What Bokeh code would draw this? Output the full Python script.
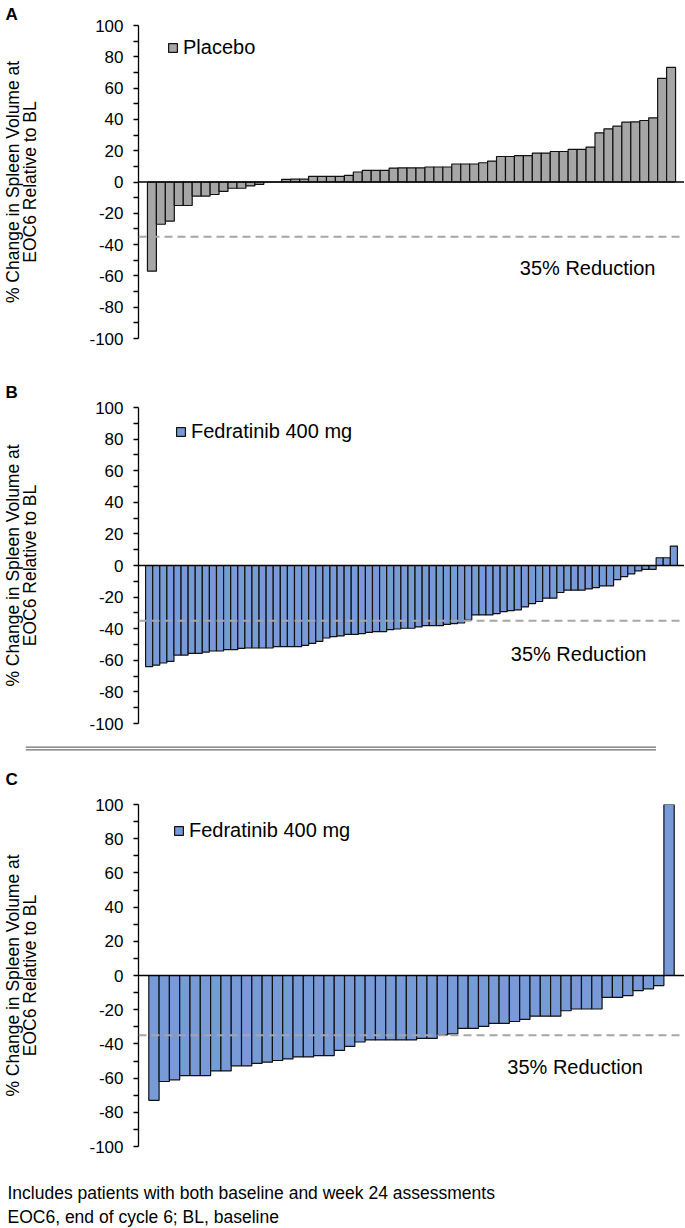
from bokeh.plotting import figure
from bokeh.models import Range1d, Span, Label, Legend, LegendItem, FixedTicker, ColumnDataSource, Title
from bokeh.layouts import column, row
from bokeh.embed import file_html
from bokeh.resources import INLINE

FONT = "Liberation Sans"

# ---- data ----
placebo = [-57, -27, -25, -15, -15, -9, -9, -8, -6, -4, -4, -2.5, -1.5, 0, 0,
           1.7, 1.8, 1.8, 3.6, 3.6, 3.6, 3.6, 4.2, 6.4, 7.4, 7.4, 7.4, 8.9, 9.0,
           9.0, 9.0, 9.6, 9.6, 9.6, 11.5, 11.5, 11.5, 12.3, 13.4, 16.3, 16.3,
           16.8, 16.8, 18.5, 18.5, 19.5, 19.5, 20.8, 20.8, 22.3, 31.4, 34.0,
           35.7, 38.2, 38.4, 39.3, 41.0, 66.2, 73.2]

fedratinib_b = [-64, -63, -61.7, -60.7, -56.7, -56.7, -55.6, -55.6, -54.8, -54.1,
                -54.1, -53.3, -53.3, -52.4, -52.2, -52.2, -52.2, -52.2, -51.4, -51.4,
                -51.4, -51.4, -50.5, -49.3, -48, -45.9, -45, -44.6, -43.6, -43.6,
                -43.1, -42.3, -41.9, -41.9, -40.6, -40.2, -39.7, -39.7, -38.9, -38.1,
                -38.1, -38.1, -37.2, -36.8, -36.4, -34.5, -31.3, -31.3, -31.3, -30.4,
                -29.2, -28.5, -28.1, -26.2, -24.1, -22.8, -20.7, -20.7, -17.1, -15.6,
                -15.6, -15.6, -14.8, -14.0, -12.9, -12.9, -8.9, -7.0, -5.3, -3.4,
                -2.5, -2.5, 4.9, 4.9, 12.3]

fedratinib_c = [-73, -62, -61, -58.5, -58.5, -58.5, -55.8, -55.8, -52.8, -52.8,
                -51.4, -50.7, -49.7, -48.8, -47.6, -47.6, -46.9, -46.9, -43.8, -41.5,
                -38.9, -37.7, -37.7, -37.7, -37.7, -37.7, -36.8, -36.8, -34.7, -34.1,
                -30.9, -30.9, -29.7, -28, -28, -26.9, -25.7, -23.8, -23.8, -23.8,
                -20.6, -19.6, -19.6, -19.6, -12.8, -12.8, -11.8, -8.8, -7.8, -5.9,
                104]  # last bar exceeds the +100 axis limit

y_major_ticks = [-100, -80, -60, -40, -20, 0, 20, 40, 60, 80, 100]
y_minor_ticks = [-90, -70, -50, -30, -10, 10, 30, 50, 70, 90]
panel_letters = ["A", "B", "C"]
legend_labels = ["Placebo", "Fedratinib 400 mg", "Fedratinib 400 mg"]
ref_value = -35
ref_text = "35% Reduction"
y_axis_label = "% Change in Spleen Volume at\nEOC6 Relative to BL"
footnotes = ["Includes patients with both baseline and week 24 assessments",
             "EOC6, end of cycle 6; BL, baseline"]

GRAY = "#A6A6A6"
BLUE = "#789BD7"
FRAME_LEFT = 138


def make_panel(values, color, legend_label, letter, height, border_top, border_bottom,
               legend_loc, letter_standoff, ref_xy):
    n = len(values)
    p = figure(width=684, height=height,
               x_range=Range1d(-0.5, n + 1.5), y_range=Range1d(-100, 100),
               toolbar_location=None, output_backend="svg",
               min_border_left=FRAME_LEFT, min_border_right=0,
               min_border_top=border_top, min_border_bottom=border_bottom)
    p.outline_line_color = None
    p.xgrid.visible = False
    p.ygrid.visible = False
    p.xaxis.visible = False
    p.background_fill_color = "white"
    p.border_fill_color = "white"

    p.title.text = letter
    p.title.align = "left"
    p.title.offset = 5 - FRAME_LEFT
    p.title.standoff = letter_standoff
    p.title.text_font = FONT
    p.title.text_font_size = "17px"
    p.title.text_font_style = "bold"
    p.title.text_color = "black"

    src = ColumnDataSource(dict(x=list(range(1, n + 1)), top=values))
    r = p.vbar(x="x", top="top", bottom=0, width=1, source=src,
               fill_color=color, line_color="#111111", line_width=1.2)

    yax = p.yaxis[0]
    yax.ticker = FixedTicker(ticks=y_major_ticks, minor_ticks=y_minor_ticks)
    yax.major_label_overrides = {t: str(t) for t in y_major_ticks}
    yax.axis_line_color = "black"
    yax.axis_line_width = 1.3
    yax.major_tick_line_color = "black"
    yax.minor_tick_line_color = "black"
    yax.major_tick_line_width = 1.3
    yax.minor_tick_line_width = 1.3
    yax.major_tick_in = 0
    yax.major_tick_out = 5
    yax.minor_tick_in = 0
    yax.minor_tick_out = 5
    yax.major_label_standoff = 10
    yax.major_label_text_font = FONT
    yax.major_label_text_font_size = "17px"
    yax.major_label_text_color = "black"
    yax.axis_label = y_axis_label
    yax.axis_label_text_font = FONT
    yax.axis_label_text_font_size = "17.5px"
    yax.axis_label_text_font_style = "normal"
    yax.axis_label_text_color = "black"
    yax.axis_label_text_line_height = 0.85
    yax.axis_label_standoff = 46

    p.add_layout(Span(location=ref_value, dimension="width", line_color=GRAY,
                      line_width=2, line_dash="8 5"))
    p.add_layout(Span(location=0, dimension="width", line_color="black",
                      line_width=1.5))

    p.add_layout(Label(x=ref_xy[0], y=ref_xy[1], text=ref_text,
                       text_font=FONT, text_font_size="20px", text_color="black",
                       text_align="left", text_baseline="alphabetic"))

    legend = Legend(items=[LegendItem(label=legend_label, renderers=[r])],
                    location=legend_loc, padding=0, margin=0, spacing=0,
                    glyph_width=11, glyph_height=11, label_standoff=5,
                    label_text_font=FONT, label_text_font_size="20px",
                    label_text_color="black", border_line_color=None,
                    background_fill_alpha=0)
    p.add_layout(legend)
    return p


pa = make_panel(placebo, GRAY, legend_labels[0], panel_letters[0], 370, 24, 32,
                (29, 279), 4, (42.1, -55))
pb = make_panel(fedratinib_b, BLUE, legend_labels[1], panel_letters[1], 370, 37, 17,
                (37, 280), 11, (52.0, -55.8))

sep = figure(width=656, height=12, x_range=Range1d(0, 1), y_range=Range1d(0, 12),
             toolbar_location=None, output_backend="svg",
             min_border_left=25, min_border_right=0, min_border_top=0, min_border_bottom=0)
sep.outline_line_color = None
sep.xaxis.visible = False
sep.yaxis.visible = False
sep.xgrid.visible = False
sep.ygrid.visible = False
sep.add_layout(Span(location=5.4, dimension="width", line_color="#6E6E6E", line_width=1.4))
sep.add_layout(Span(location=2.6, dimension="width", line_color="#6E6E6E", line_width=1.4))

pc = make_panel(fedratinib_c, BLUE, legend_labels[2], panel_letters[2], 476, 51, 75,
                (35, 304), 31, (35.3, -53.5))
# spacer between the frame and the footnotes
pc.add_layout(Title(text=" ", text_font_size="1px", standoff=31), "below")
for i, t in enumerate(footnotes):
    pc.add_layout(Title(text=t, align="left", offset=7 - FRAME_LEFT,
                        vertical_align="top", standoff=4 if i == 0 else 0,
                        text_font=FONT, text_font_size="17.5px",
                        text_font_style="normal", text_color="black"), "below")

layout = column(pa, pb, row(sep), pc)
open("out.html", "w").write(file_html(layout, INLINE))
